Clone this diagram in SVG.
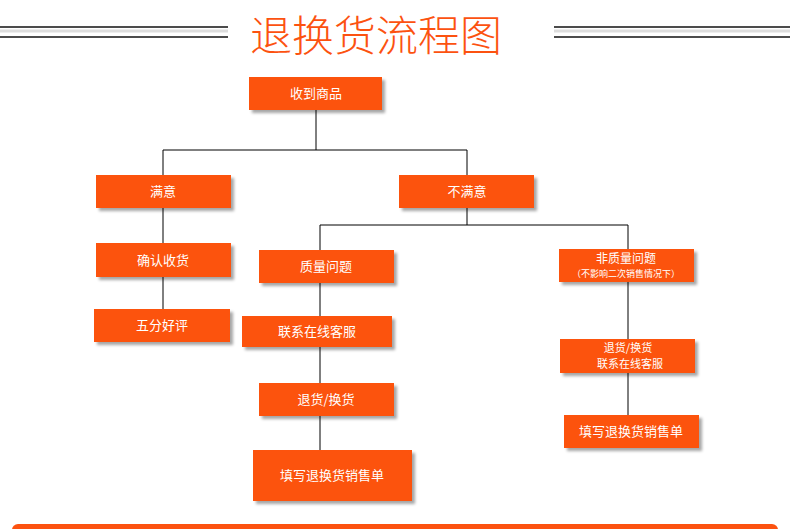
<svg xmlns="http://www.w3.org/2000/svg" width="790" height="529" viewBox="0 0 790 529">
<defs>
<filter id="sh" x="-10%" y="-10%" width="130%" height="140%"><feDropShadow dx="3" dy="3" stdDeviation="1.5" flood-color="#000" flood-opacity="0.35"/></filter>
<style>
.b{fill:#fc5210;filter:url(#sh)}
.t{font-family:"Noto Sans CJK SC","Liberation Sans",sans-serif;font-size:13px;fill:#fff;text-anchor:middle}
.s{font-size:9px}
.m{font-size:12px}
.n{font-size:11px}
.c{stroke:#000;stroke-width:1;fill:none}
</style>
</defs>
<rect width="790" height="529" fill="#fff"/>
<g id="title">
<line x1="0" y1="31" x2="228" y2="31" stroke="#ddd" stroke-width="3"/>
<line x1="0" y1="27" x2="228" y2="27" stroke="#111" stroke-width="1.5"/>
<line x1="0" y1="37" x2="228" y2="37" stroke="#111" stroke-width="1.5"/>
<line x1="554" y1="31" x2="790" y2="31" stroke="#ddd" stroke-width="3"/>
<line x1="554" y1="27" x2="790" y2="27" stroke="#111" stroke-width="1.5"/>
<line x1="554" y1="37" x2="790" y2="37" stroke="#111" stroke-width="1.5"/>
<text x="376" y="51" font-family="Noto Sans CJK SC,sans-serif" font-weight="300" font-size="42" fill="#fc5210" text-anchor="middle">退换货流程图</text>
</g>
<g id="connectors" class="c">
<path d="M316 110V150M163 150H467M163 150V175M467 150V175M163 208V309M467 208V225M320 225H628M320 225V250M628 225V249M320 283V450M628 282V415"/>
</g>
<g id="n1"><rect class="b" x="249" y="77" width="133" height="33"/><text class="t" x="316" y="98">收到商品</text></g>
<g id="n2"><rect class="b" x="96" y="175" width="135" height="33"/><text class="t" x="163" y="196">满意</text></g>
<g id="n3"><rect class="b" x="399" y="175" width="135" height="33"/><text class="t" x="467" y="196">不满意</text></g>
<g id="n4"><rect class="b" x="96" y="243" width="135" height="34"/><text class="t" x="163" y="265">确认收货</text></g>
<g id="n5"><rect class="b" x="94" y="309" width="136" height="33"/><text class="t" x="162" y="330">五分好评</text></g>
<g id="n6"><rect class="b" x="259" y="250" width="135" height="33"/><text class="t" x="326" y="271">质量问题</text></g>
<g id="n7"><rect class="b" x="242" y="316" width="150" height="31"/><text class="t" x="317" y="336">联系在线客服</text></g>
<g id="n8"><rect class="b" x="259" y="383" width="135" height="33"/><text class="t" x="326" y="404">退货/换货</text></g>
<g id="n9"><rect class="b" x="253" y="450" width="159" height="51"/><text class="t" x="332" y="480">填写退换货销售单</text></g>
<g id="n10"><rect class="b" x="559" y="249" width="135" height="33"/><text class="t m" x="626" y="263">非质量问题</text><text class="t s" x="626" y="277">（不影响二次销售情况下）</text></g>
<g id="n11"><rect class="b" x="560" y="339" width="135" height="34"/><text class="t n" x="628" y="352">退货/换货</text><text class="t n" x="630" y="368">联系在线客服</text></g>
<g id="n12"><rect class="b" x="564" y="415" width="135" height="33"/><text class="t" x="631" y="436">填写退换货销售单</text></g>
<g id="footer"><rect x="12" y="524" width="766" height="12" rx="6" fill="#fc5210"/></g>
</svg>
